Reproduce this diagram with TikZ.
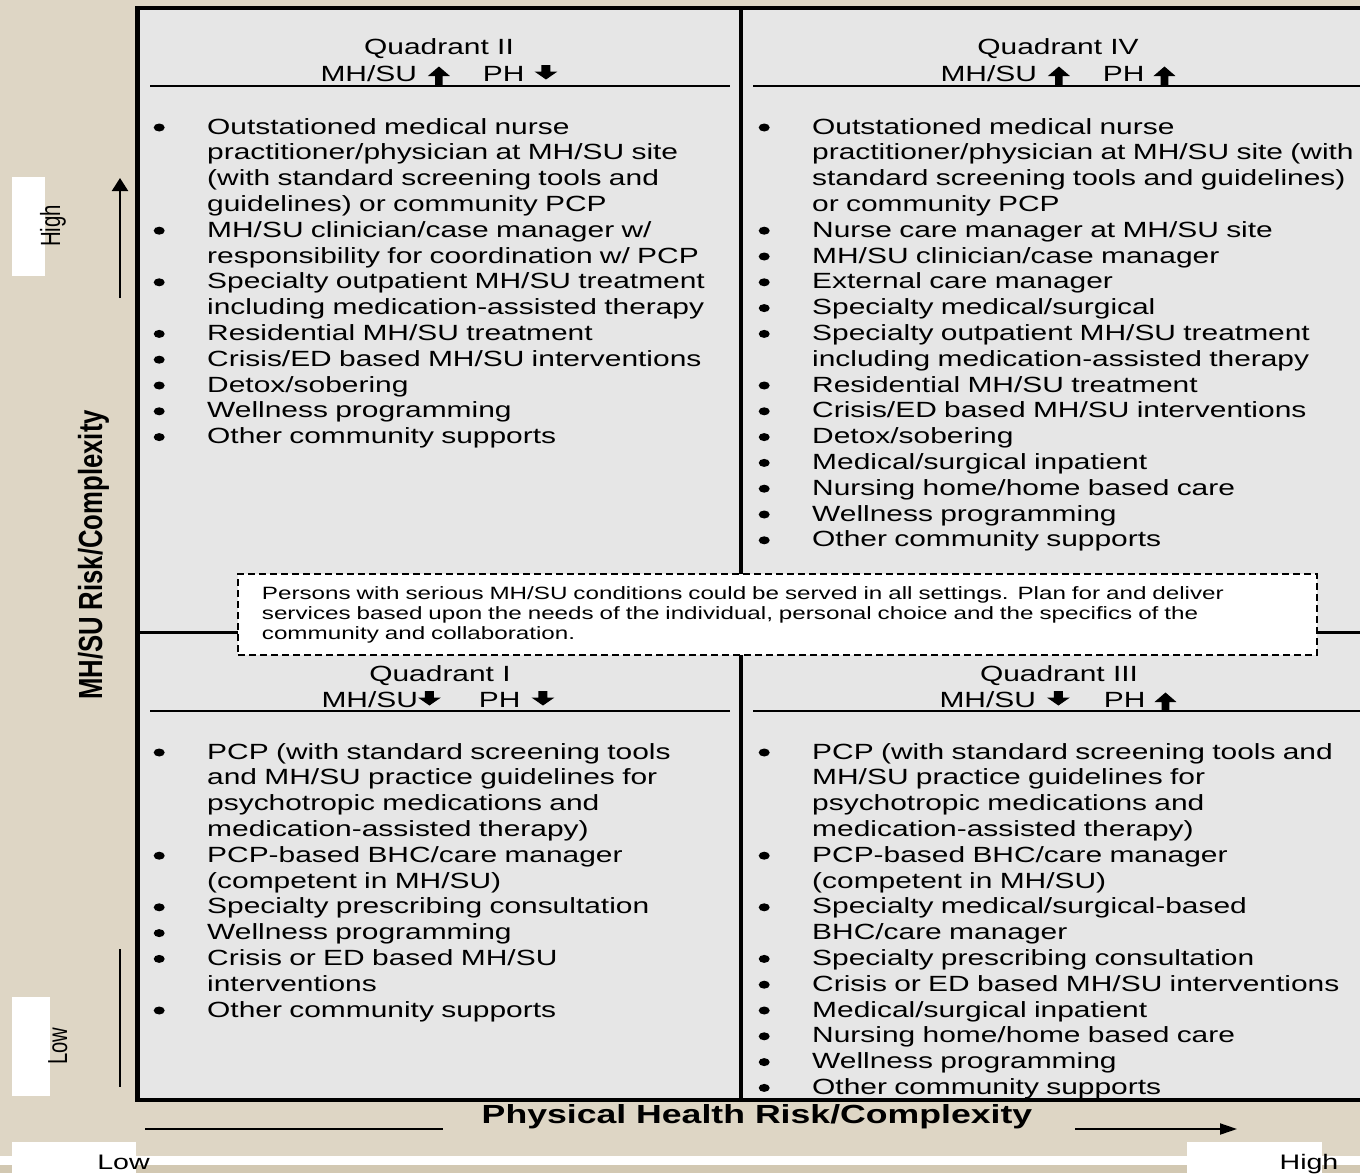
\documentclass[tikz,border=0pt]{standalone}
\usepackage{fontspec}
\usepackage{graphicx}
\setmainfont{Liberation Sans}[FakeStretch=1.36]
\newfontfamily\plainfont{Liberation Sans}
\usetikzlibrary{arrows.meta}
\definecolor{bgbeige}{HTML}{DED6C5}
\definecolor{bgdark}{HTML}{D2C8B2}
\definecolor{boxgray}{HTML}{E6E6E6}
\newcommand\uparr{\tikz[x=1pt,y=1pt,baseline=0pt]\fill[black] (-3.8,-4) -- (-3.8,5) -- (-11,5) -- (0,14.5) -- (11,5) -- (3.8,5) -- (3.8,-4) -- cycle;}
\newcommand\dnarr{\tikz[x=1pt,y=1pt,baseline=0pt]\fill[black] (-4.5,16) -- (4.5,16) -- (4.5,9.5) -- (11.5,9.5) -- (0,1.5) -- (-11.5,9.5) -- (-4.5,9.5) -- cycle;}
\newcommand\bulletdot{\tikz[x=1pt,y=1pt,baseline=0pt]\fill[black] (0,6.5) ellipse [x radius=5.5pt, y radius=4pt];}
\newcommand\itm[1]{\par\noindent\llap{\makebox[0pt][c]{\bulletdot}\hspace{48pt}}#1}
\tikzset{
  listtext/.style={anchor=base west, inner sep=0pt, text width=620pt, align=left,
    font=\fontsize{22}{25.8}\selectfont},
  headtext/.style={anchor=base, inner sep=0pt, font=\fontsize{22}{26}\selectfont},
  headrule/.style={line width=1.3pt},
  axisline/.style={line width=2pt},
  rottext/.style={rotate=90, anchor=base, inner sep=0pt},
}
\begin{document}
\begin{tikzpicture}[x=1pt,y=-1pt]
\useasboundingbox (0,0) rectangle (1360,1173);
\clip (0,0) rectangle (1360,1173);
% background
\fill[bgbeige] (0,0) rectangle (1360,1173);
\fill[white] (0,1156) rectangle (1360,1165);
\fill[bgdark] (0,1165) rectangle (1360,1173);
\fill[white] (12,1142) rectangle (136,1173);
\fill[white] (1187,1142) rectangle (1322,1173);
\fill[white] (12,177) rectangle (45,276);
\fill[white] (12,997) rectangle (50,1096);
% main box
\fill[boxgray] (137.5,8) rectangle (1380,1100);
\draw[line width=4.5pt] (137.5,8) rectangle (1380,1100);
\draw[line width=4pt] (741,8) -- (741,1100);
\draw[line width=3pt] (137.5,632) -- (1380,632);
% heading rules
\draw[headrule] (150,86) -- (730,86);
\draw[headrule] (753,86) -- (1360,86);
\draw[headrule] (150,711) -- (730,711);
\draw[headrule] (753,711) -- (1360,711);
% headings
\node[headtext] (h2a) at (439,54) {Quadrant II};
\node[headtext] (h2b) at (439,81) {MH/SU\hspace{11pt}\uparr\hspace{33pt}PH\hspace{10pt}\dnarr};
\node[headtext] (h4a) at (1058,54) {Quadrant IV};
\node[headtext] (h4b) at (1058,81) {MH/SU\hspace{11pt}\uparr\hspace{33pt}PH\hspace{9pt}\uparr};
\node[headtext] (h1a) at (440,681) {Quadrant I};
\node[headtext] (h1b) at (438,707) {MH/SU\dnarr\hspace{38pt}PH\hspace{11pt}\dnarr};
\node[headtext] (h3a) at (1059,681) {Quadrant III};
\node[headtext] (h3b) at (1058,707) {MH/SU\hspace{11pt}\dnarr\hspace{34pt}PH\hspace{9pt}\uparr};
% lists
\node[listtext] (q2) at (207,108.2) {%
\itm{Outstationed medical nurse\\practitioner/physician at MH/SU site\\(with standard screening tools and\\guidelines) or community PCP}
\itm{MH/SU clinician/case manager w/\\responsibility for coordination w/ PCP}
\itm{Specialty outpatient MH/SU treatment\\including medication-assisted therapy}
\itm{Residential MH/SU treatment}
\itm{Crisis/ED based MH/SU interventions}
\itm{Detox/sobering}
\itm{Wellness programming}
\itm{Other community supports}};
\node[listtext] (q4) at (812,108.2) {%
\itm{Outstationed medical nurse\\practitioner/physician at MH/SU site (with\\standard screening tools and guidelines)\\or community PCP}
\itm{Nurse care manager at MH/SU site}
\itm{MH/SU clinician/case manager}
\itm{External care manager}
\itm{Specialty medical/surgical}
\itm{Specialty outpatient MH/SU treatment\\including medication-assisted therapy}
\itm{Residential MH/SU treatment}
\itm{Crisis/ED based MH/SU interventions}
\itm{Detox/sobering}
\itm{Medical/surgical inpatient}
\itm{Nursing home/home based care}
\itm{Wellness programming}
\itm{Other community supports}};
\node[listtext] (q1) at (207,733.2) {%
\itm{PCP (with standard screening tools\\and MH/SU practice guidelines for\\psychotropic medications and\\medication-assisted therapy)}
\itm{PCP-based BHC/care manager\\(competent in MH/SU)}
\itm{Specialty prescribing consultation}
\itm{Wellness programming}
\itm{Crisis or ED based MH/SU\\interventions}
\itm{Other community supports}};
\node[listtext] (q3) at (812,733.2) {%
\itm{PCP (with standard screening tools and\\MH/SU practice guidelines for\\psychotropic medications and\\medication-assisted therapy)}
\itm{PCP-based BHC/care manager\\(competent in MH/SU)}
\itm{Specialty medical/surgical-based\\BHC/care manager}
\itm{Specialty prescribing consultation}
\itm{Crisis or ED based MH/SU interventions}
\itm{Medical/surgical inpatient}
\itm{Nursing home/home based care}
\itm{Wellness programming}
\itm{Other community supports}};
% dashed note
\node[draw, dashed, dash pattern=on 7pt off 4pt, line width=1.8pt, fill=white,
  anchor=north west, inner xsep=24pt, inner ysep=0pt, text width=1031pt,
  minimum height=81pt, align=left, font=\fontsize{17.8}{20}\selectfont]
  (note) at (237,573) {Persons with serious MH/SU conditions could be served in all settings. Plan for and deliver\\services based upon the needs of the individual, personal choice and the specifics of the\\community and collaboration.\par\vspace{4pt}};
% left axis
\coordinate (ya1) at (120,298);
\coordinate (ya2) at (120,178);
\coordinate (yb1) at (120,949);
\coordinate (yb2) at (120,1087);
\draw[axisline, -{Triangle[width=16pt,length=13pt]}] (ya1) -- (ya2);
\draw[axisline] (yb1) -- (yb2);
\node[rottext, font=\plainfont\fontsize{20.4}{24}\selectfont] (yhigh) at (60,226) {\scalebox{1}[1.36]{High}};
\node[rottext, font=\plainfont\fontsize{20.2}{24}\selectfont] (ylow) at (67,1046) {\scalebox{1}[1.36]{Low}};
\node[rottext, font=\plainfont\bfseries\fontsize{25.7}{30}\selectfont] (ylab) at (102,555) {\scalebox{1}[1.3]{MH/SU Risk/Complexity}};
% bottom axis
\coordinate (xa1) at (145,1129);
\coordinate (xa2) at (443,1129);
\coordinate (xb1) at (1075,1129);
\coordinate (xb2) at (1237,1129);
\draw[axisline] (xa1) -- (xa2);
\draw[axisline, -{Triangle[width=11pt,length=17pt]}] (xb1) -- (xb2);
\node[anchor=base, inner sep=0pt, font=\bfseries\fontsize{26.2}{30}\selectfont] (xlab) at (757,1123) {Physical Health Risk/Complexity};
\node[anchor=base, inner sep=0pt, font=\fontsize{21}{24}\selectfont] (xlow) at (123.5,1169) {Low};
\node[anchor=base, inner sep=0pt, font=\fontsize{21}{24}\selectfont] (xhigh) at (1309,1169) {High};
\end{tikzpicture}
\end{document}
